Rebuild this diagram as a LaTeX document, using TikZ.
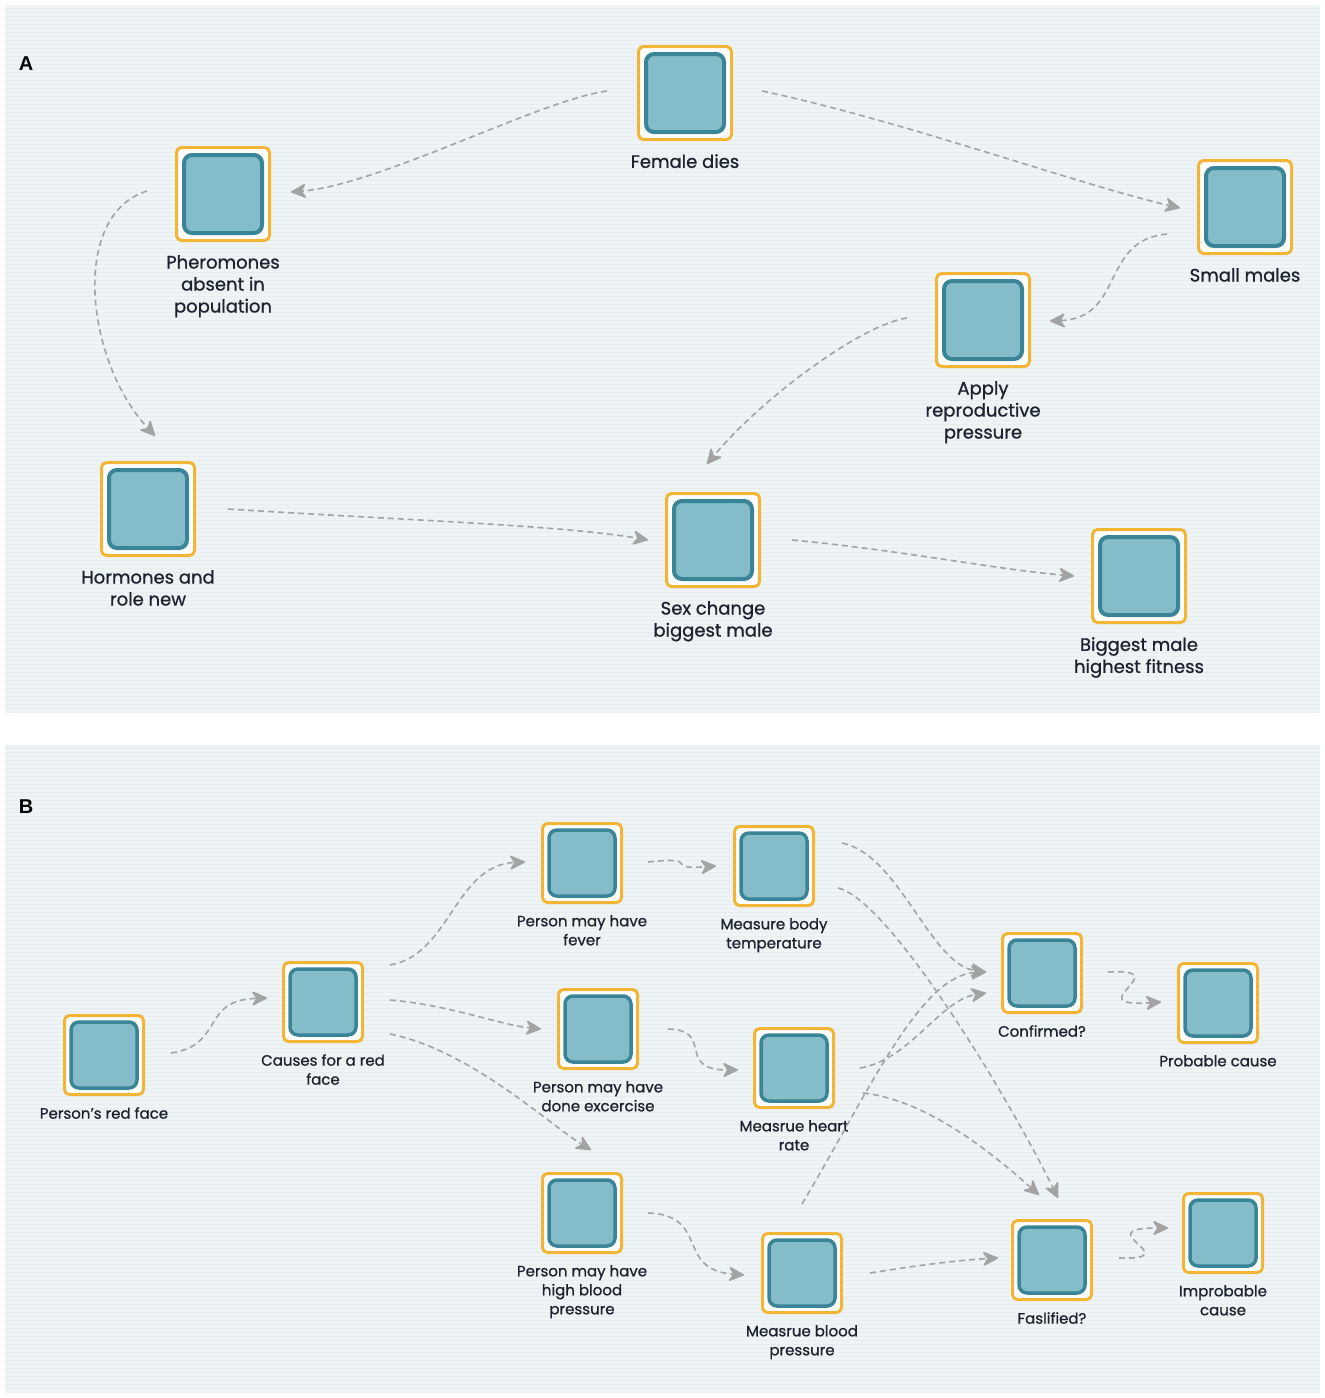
\documentclass[tikz,border=0pt]{standalone}
\usepackage{fontspec}
\setmainfont{Poppins}[FakeBold=0.9]
\newfontfamily\panelfont{Liberation Sans}
\usetikzlibrary{arrows.meta}
\definecolor{frame}{HTML}{F2B535}
\definecolor{rim}{HTML}{3A8497}
\definecolor{cellfill}{HTML}{84BDC9}
\definecolor{pane}{HTML}{EEF3F5}
\definecolor{stripe}{HTML}{E8EEF0}
\definecolor{ink}{HTML}{1B2330}
\definecolor{wire}{HTML}{A3A3A3}
\tikzset{
  cell/.style n args={3}{draw=frame, fill=white, line width=3pt, rounded corners=5pt,
    minimum size=#1, inner sep=0pt,
    path picture={\draw[draw=rim, fill=cellfill, line width=#3, rounded corners=8pt]
      ([shift={(#2pt,-#2pt)}]path picture bounding box.north west) rectangle
      ([shift={(-#2pt,#2pt)}]path picture bounding box.south east);}},
  cellA/.style={cell={93pt}{7.5}{4pt}},
  cellB/.style={cell={79pt}{6.5}{3.5pt}},
  capA/.style={font=\fontsize{18}{22}\selectfont, text=ink, align=center, inner sep=0pt, yshift=-13pt},
  capB/.style={font=\fontsize{15}{19}\selectfont, text=ink, align=center, inner sep=0pt, yshift=-11pt},
  panel/.style={font=\panelfont\bfseries\fontsize{20}{24}\selectfont, text=black},
  link/.style={draw=wire, line width=1.6pt, dash pattern=on 6pt off 4pt,
    -{Stealth[length=17pt,width=16pt,inset=5pt,round]}},
}
\begin{document}
\begin{tikzpicture}[x=1pt,y=-1pt]
\useasboundingbox (0,0) rectangle (1325,1398);
\fill[pane] (5,5) rectangle (1320,713);
\fill[pane] (5,745) rectangle (1320,1393);
\foreach \y in {8,12,...,710} \draw[stripe, line width=1pt] (5,\y) -- (1320,\y);
\foreach \y in {748,752,...,1390} \draw[stripe, line width=1pt] (5,\y) -- (1320,\y);
\node[panel] (tagA) at (26,64) {A};
\node[panel] (tagB) at (26,807) {B};

% panel A
\node[cellA, label={[capA]below:Female dies}] (fd) at (685,93) {};
\node[cellA, label={[capA]below:Pheromones\\absent in\\population}] (ph) at (223,194) {};
\node[cellA, label={[capA]below:Small males}] (sm) at (1245,207) {};
\node[cellA, label={[capA]below:Apply\\reproductive\\pressure}] (ap) at (983,320) {};
\node[cellA, label={[capA]below:Hormones and\\role new}] (ho) at (148,509) {};
\node[cellA, label={[capA]below:Sex change\\biggest male}] (sc) at (713,540) {};
\node[cellA, label={[capA]below:Biggest male\\highest fitness}] (bm) at (1139,576) {};

\draw[link] ([shift={(-30,-2)}]fd.west) .. controls (540,100) and (380,185) .. ([shift={(20,-2)}]ph.east);
\draw[link] ([shift={(29,-2)}]fd.east) .. controls (900,120) and (1080,185) .. ([shift={(-17,1)}]sm.west);
\draw[link] ([shift={(-28,-3)}]ph.west) .. controls (70,215) and (85,360) .. ([shift={(7,-25)}]ho.north);
\draw[link] ([shift={(-30,27)}]sm.west) .. controls (1100,240) and (1125,318) .. ([shift={(19,1)}]ap.east);
\draw[link] ([shift={(-28,-2)}]ap.west) .. controls (860,325) and (760,400) .. ([shift={(-6,-28)}]sc.north);
\draw[link] ([shift={(32,0)}]ho.east) .. controls (400,520) and (560,525) .. ([shift={(-17,0)}]sc.west);
\draw[link] ([shift={(31,0)}]sc.east) .. controls (900,550) and (1000,570) .. ([shift={(-17,0)}]bm.west);

% panel B
\node[cellB, label={[capB]below:Person's red face}] (rf) at (104,1055) {};
\node[cellB, label={[capB]below:Causes for a red\\face}] (cr) at (323,1002) {};
\node[cellB, label={[capB]below:Person may have\\fever}] (fv) at (582,863) {};
\node[cellB, label={[capB]below:Measure body\\temperature}] (bt) at (774,866) {};
\node[cellB, label={[capB]below:Person may have\\done excercise}] (ex) at (598,1029) {};
\node[cellB, label={[capB]below:Measrue heart\\rate}] (hr) at (794,1068) {};
\node[cellB, label={[capB]below:Person may have\\high blood\\pressure}] (hb) at (582,1213) {};
\node[cellB, label={[capB]below:Measrue blood\\pressure}] (bp) at (802,1273) {};
\node[cellB, label={[capB]below:Confirmed?}] (cf) at (1042,973) {};
\node[cellB, label={[capB]below:Probable cause}] (pc) at (1218,1003) {};
\node[cellB, label={[capB]below:Faslified?}] (fs) at (1052,1260) {};
\node[cellB, label={[capB]below:Improbable\\cause}] (ic) at (1223,1233) {};

\draw[link] ([shift={(26,-2)}]rf.east) .. controls (225,1045) and (200,1000) .. ([shift={(-15,-4)}]cr.west);
\draw[link] ([shift={(26,-37)}]cr.east) .. controls (450,955) and (455,865) .. ([shift={(-16,-1)}]fv.west);
\draw[link] ([shift={(26,-2)}]cr.east) .. controls (450,1005) and (500,1025) .. ([shift={(-16,0)}]ex.west);
\draw[link] ([shift={(26,32)}]cr.east) .. controls (470,1050) and (550,1125) .. ([shift={(9,-22)}]hb.north);
\draw[link] ([shift={(25,-1)}]fv.east) .. controls (705,856) and (660,870) .. ([shift={(-17,0)}]bt.west);
\draw[link] ([shift={(29,0)}]ex.east) .. controls (715,1030) and (675,1070) .. ([shift={(-15,2)}]hr.west);
\draw[link] ([shift={(25,0)}]hb.east) .. controls (710,1215) and (675,1270) .. ([shift={(-17,2)}]bp.west);
\draw[link] ([shift={(27,-23)}]bt.east) .. controls (900,855) and (930,965) .. ([shift={(-15,-1)}]cf.west);
\draw[link] ([shift={(23,22)}]bt.east) .. controls (890,900) and (1010,1100) .. ([shift={(6,-21)}]fs.north);
\draw[link] ([shift={(25,0)}]hr.east) .. controls (910,1060) and (940,1000) .. ([shift={(-15,20)}]cf.west);
\draw[link] ([shift={(28,25)}]hr.east) .. controls (930,1100) and (1000,1160) .. ([shift={(-13,-24)}]fs.north);
\draw[link] ([shift={(0,-28)}]bp.north) .. controls (870,1090) and (920,975) .. ([shift={(-15,-1)}]cf.west);
\draw[link] ([shift={(27,0)}]bp.east) .. controls (920,1265) and (960,1260) .. ([shift={(-13,-2)}]fs.west);
\draw[link] ([shift={(25,-1)}]cf.east) .. controls (1180,968) and (1075,1008) .. ([shift={(-16,-1)}]pc.west);
\draw[link] ([shift={(26,-2)}]fs.east) .. controls (1190,1260) and (1085,1228) .. ([shift={(-14,-5)}]ic.west);
\end{tikzpicture}
\end{document}
